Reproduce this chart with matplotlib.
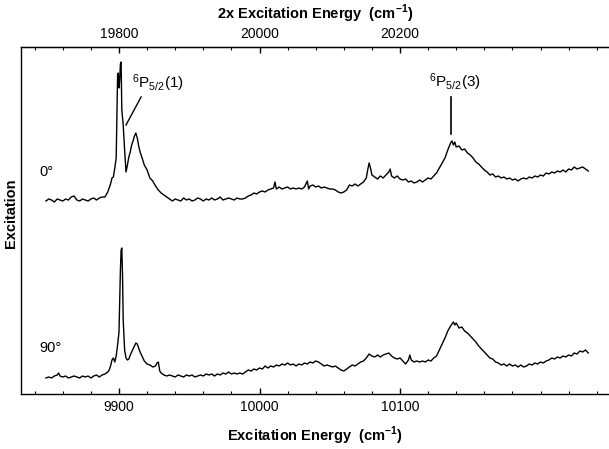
import matplotlib
matplotlib.use("Agg")
import matplotlib.pyplot as plt
from matplotlib.ticker import MultipleLocator, NullLocator

plt.rcParams['font.family'] = ['Liberation Sans', 'DejaVu Sans']
plt.rcParams['mathtext.fontset'] = 'custom'
plt.rcParams['mathtext.rm'] = 'Liberation Sans'

# ---------------- data ----------------
e0 = [9848, 9850, 9852, 9854, 9856, 9858, 9860, 9862, 9864, 9866, 9868, 9870, 9872, 9874, 9876,
      9878, 9880, 9882, 9884, 9886, 9888, 9890, 9892, 9894, 9895, 9896, 9897, 9898, 9899, 9899.5,
      9900, 9900.5, 9901, 9901.5, 9902, 9903, 9904, 9905, 9906, 9907, 9908, 9909, 9910, 9911, 9912,
      9913, 9914, 9915, 9916, 9918, 9920, 9922, 9924, 9926, 9928, 9930, 9932, 9934, 9936, 9938,
      9940, 9942, 9944, 9946, 9948, 9950, 9952, 9954, 9956, 9958, 9960, 9962, 9964, 9966, 9968,
      9970, 9972, 9974, 9976, 9978, 9980, 9982, 9984, 9986, 9988, 9990, 9992, 9994, 9996, 9998,
      10000, 10002, 10004, 10006, 10008, 10010, 10011, 10012, 10014, 10016, 10018, 10020, 10022,
      10024, 10026, 10028, 10030, 10032, 10034, 10035, 10036, 10038, 10040, 10042, 10044, 10046,
      10048, 10050, 10052, 10054, 10056, 10058, 10060, 10062, 10064, 10066, 10068, 10070, 10072,
      10074, 10076, 10077, 10078, 10079, 10080, 10082, 10084, 10086, 10088, 10090, 10092, 10093,
      10094, 10096, 10098, 10100, 10102, 10104, 10106, 10108, 10110, 10112, 10114, 10116, 10118,
      10120, 10122, 10124, 10126, 10128, 10130, 10132, 10134, 10136, 10137, 10138, 10139, 10140,
      10142, 10144, 10146, 10148, 10150, 10152, 10154, 10156, 10158, 10160, 10162, 10164, 10166,
      10168, 10170, 10172, 10174, 10176, 10178, 10180, 10182, 10184, 10186, 10188, 10190, 10192,
      10194, 10196, 10198, 10200, 10202, 10204, 10206, 10208, 10210, 10212, 10214, 10216, 10218,
      10220, 10222, 10224, 10226, 10228, 10230, 10232, 10234]
i0 = [193, 195, 194, 192, 195, 194, 193, 195, 194, 197, 198, 194, 193, 195, 194,
      193, 195, 196, 194, 196, 197, 197, 202, 210, 216, 217, 226, 236, 319, 321,
      306, 314, 330, 332, 284, 269, 244, 222, 229, 237, 242, 249, 253, 258, 261,
      256, 248, 242, 238, 229, 224, 216, 213, 208, 204, 201, 199, 197, 195, 193,
      195, 194, 193, 196, 194, 195, 193, 194, 196, 195, 193, 195, 194, 196, 194,
      195, 197, 194, 195, 196, 195, 194, 196, 195, 195, 196, 198, 199, 201, 200,
      202, 203, 202, 204, 205, 206, 212, 205, 207, 205, 206, 207, 205,
      206, 205, 206, 205, 207, 213, 205, 208, 209, 207, 208, 206, 207,
      206, 205, 205, 204, 202, 201, 202, 204, 209, 208, 210, 208, 210,
      212, 216, 224, 231, 226, 219, 217, 215, 218, 216, 219, 222, 225,
      218, 216, 218, 215, 214, 215, 212, 213, 211, 212, 214, 212, 214,
      216, 215, 218, 221, 226, 231, 236, 244, 251, 253, 249, 252, 247,
      248, 244, 245, 241, 239, 236, 232, 230, 227, 224, 222, 219, 220,
      217, 218, 216, 217, 215, 216, 214, 215, 213, 215, 216, 215, 217,
      216, 218, 217, 219, 218, 221, 220, 222, 221, 223, 222, 224, 222,
      225, 224, 227, 225, 226, 227, 225, 223]

e90 = [9848, 9850, 9852, 9854, 9856, 9857, 9858, 9860, 9862, 9864, 9866, 9868, 9870, 9872, 9874,
       9876, 9878, 9880, 9882, 9884, 9886, 9888, 9890, 9892, 9893, 9894, 9895, 9896, 9897, 9898,
       9899, 9900, 9900.5, 9901, 9901.5, 9902, 9902.5, 9903, 9904, 9905, 9906, 9907, 9908, 9909,
       9910, 9911, 9912, 9913, 9914, 9915, 9916, 9918, 9920, 9922, 9924, 9926, 9927, 9928, 9929,
       9930, 9932, 9934, 9936, 9938, 9940, 9942, 9944, 9946, 9948, 9950, 9952, 9954, 9956, 9958,
       9960, 9962, 9964, 9966, 9968, 9970, 9972, 9974, 9976, 9978, 9980, 9982, 9984, 9986, 9988,
       9990, 9992, 9994, 9996, 9998, 10000, 10002, 10004, 10006, 10008, 10010, 10012, 10014,
       10016, 10018, 10020, 10022, 10024, 10026, 10028, 10030, 10032, 10034, 10036, 10038, 10040,
       10042, 10044, 10046, 10048, 10050, 10052, 10054, 10056, 10058, 10060, 10062, 10064, 10066,
       10068, 10070, 10072, 10074, 10076, 10078, 10080, 10082, 10084, 10086, 10088, 10090, 10092,
       10094, 10096, 10098, 10100, 10102, 10104, 10106, 10107, 10108, 10110, 10112, 10114, 10116,
       10118, 10120, 10122, 10124, 10126, 10128, 10130, 10132, 10134, 10136, 10138, 10139, 10140,
       10142, 10144, 10146, 10148, 10150, 10152, 10154, 10156, 10158, 10160, 10162, 10164, 10166,
       10168, 10170, 10172, 10174, 10176, 10178, 10180, 10182, 10184, 10186, 10188, 10190, 10192,
       10194, 10196, 10198, 10200, 10202, 10204, 10206, 10208, 10210, 10212, 10214, 10216, 10218,
       10220, 10222, 10224, 10226, 10228, 10230, 10232, 10234]
i90 = [16, 17, 16, 18, 19, 21, 18, 17, 18, 16, 17, 18, 17, 16, 18,
       17, 18, 16, 18, 19, 17, 19, 20, 22, 24, 28, 34, 36, 32, 38,
       49, 62, 94, 124, 144, 146, 119, 74, 44, 36, 34, 35, 39, 42,
       45, 48, 51, 50, 46, 42, 39, 33, 30, 29, 27, 28, 31, 32, 23,
       21, 19, 18, 19, 18, 17, 19, 18, 17, 19, 18, 19, 17, 18, 19,
       18, 20, 19, 20, 18, 20, 19, 21, 20, 22, 20, 21, 20, 21, 20,
       22, 24, 23, 25, 24, 26, 25, 28, 26, 28, 27, 29, 28,
       30, 29, 31, 29, 30, 28, 30, 29, 31, 30, 32, 31, 33,
       32, 30, 28, 29, 28, 27, 28, 26, 24, 23, 25, 27, 29,
       28, 30, 32, 33, 36, 40, 38, 37, 39, 37, 39, 40, 41,
       38, 36, 35, 36, 33, 30, 34, 39, 34, 32, 33, 32, 33,
       32, 34, 33, 36, 38, 44, 50, 56, 63, 68, 72, 69, 71,
       66, 67, 63, 61, 58, 55, 52, 48, 45, 42, 39, 36, 35,
       32, 31, 29, 30, 28, 30, 28, 29, 27, 29, 27, 28, 30,
       29, 31, 30, 32, 31, 33, 34, 36, 35, 37, 36, 38, 37,
       39, 38, 41, 40, 43, 42, 44, 41]

bottom_ticks = [9900, 10000, 10100]
top_ticks = [19800, 20000, 20200]
trace_labels = ["0°", "90°"]
peak_labels = [r"$\mathregular{^6P_{5/2}(1)}$", r"$\mathregular{^6P_{5/2}(3)}$"]

# ---------------- figure ----------------
fig = plt.figure(figsize=(6.09, 4.49), dpi=100)
ax = fig.add_axes([21 / 609, 55 / 449, 588 / 609, 347 / 449])

ax.plot(e0, i0, color='black', lw=1.0)
ax.plot(e90, i90, color='black', lw=1.0)

ax.set_xlim(9830.25, 10248.75)
ax.set_ylim(0, 347)

ax.spines['right'].set_visible(False)
for s in ['left', 'top', 'bottom']:
    ax.spines[s].set_linewidth(1.0)

ax.yaxis.set_major_locator(NullLocator())
ax.xaxis.set_minor_locator(MultipleLocator(20))
ax.set_xticks(bottom_ticks)
ax.tick_params(axis='x', which='major', direction='in', length=4.5, width=1.0,
               labelsize=10, pad=4)
ax.tick_params(axis='x', which='minor', direction='in', length=2.5, width=0.8)
ax.set_xlabel("Excitation Energy  (cm$^{\\mathregular{-1}}$)", fontsize=10.5,
              fontweight='bold', labelpad=8)

sec = ax.secondary_xaxis('top', functions=(lambda x: 2 * x, lambda x: x / 2))
sec.xaxis.set_minor_locator(MultipleLocator(40))
sec.set_xticks(top_ticks)
sec.tick_params(axis='x', which='major', direction='in', length=4.5, width=1.0,
                labelsize=10, pad=4)
sec.tick_params(axis='x', which='minor', direction='in', length=2.5, width=0.8)
sec.set_xlabel("2x Excitation Energy  (cm$^{\\mathregular{-1}}$)", fontsize=10.5,
               fontweight='bold', labelpad=6)

ax.set_ylabel("Excitation", fontsize=10.5, fontweight='bold')
ax.yaxis.set_label_coords(-0.005, 0.52)

ax.text(9843.5, 222, trace_labels[0], fontsize=10.5, ha='left', va='center')
ax.text(9843.5, 46, trace_labels[1], fontsize=10.5, ha='left', va='center')

ax.text(9909.3, 311, peak_labels[0], fontsize=11, ha='left', va='center')
ax.plot([9915.7, 9905], [297, 269], color='black', lw=1.0)
ax.text(10139.1, 312, peak_labels[1], fontsize=11, ha='center', va='center')
ax.plot([10136.3, 10136.3], [297, 260], color='black', lw=1.2)

fig.savefig("out.png", dpi=100)
